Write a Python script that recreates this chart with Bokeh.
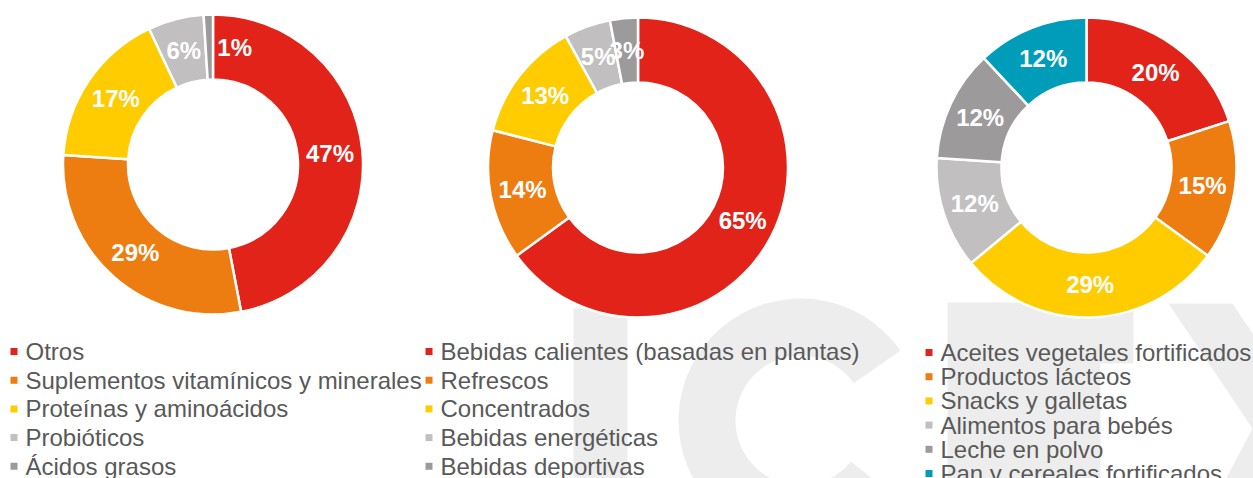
import math
from bokeh.plotting import figure
from bokeh.models import Range1d, ColumnDataSource
from bokeh.core.properties import value
from bokeh.embed import file_html
from bokeh.resources import INLINE

W, H = 1253, 478

# ---------------- data ----------------
cats1 = ["Otros", "Suplementos vitamínicos y minerales", "Proteínas y aminoácidos",
         "Probióticos", "Ácidos grasos"]
vals1 = [47, 29, 17, 6, 1]

cats2 = ["Bebidas calientes (basadas en plantas)", "Refrescos", "Concentrados",
         "Bebidas energéticas", "Bebidas deportivas"]
vals2 = [65, 14, 13, 5, 3]

cats3 = ["Aceites vegetales fortificados", "Productos lácteos", "Snacks y galletas",
         "Alimentos para bebés", "Leche en polvo", "Pan y cereales fortificados"]
vals3 = [20, 15, 29, 12, 12, 12]

colors = ["#E2231A", "#EE7D11", "#FFCC00", "#C1BFC0", "#9C9A9B", "#009DBA"]

# ---------------- layout (pixels, y measured from top) ----------------
charts = [
    dict(cats=cats1, vals=vals1, cx=212.5, cy=164, lx=10, ly=351, dy=28.7),
    dict(cats=cats2, vals=vals2, cx=637.5, cy=167, lx=425, ly=351, dy=28.7),
    dict(cats=cats3, vals=vals3, cx=1086, cy=167, lx=925, ly=352, dy=24.2),
]
R_OUT, R_IN = 150, 85
TEXT_GREY = "#595959"
WM = "#ededed"
FONT = "Liberation Sans"

p = figure(width=W, height=H, x_range=Range1d(0, W), y_range=Range1d(0, H),
           output_backend="svg", toolbar_location=None, min_border=0)
p.axis.visible = False
p.grid.visible = False
p.outline_line_color = None
p.background_fill_color = "white"
p.border_fill_color = "white"

def Y(py):
    return H - py

# ---------------- watermark (decorative) ----------------
p.quad(left=[573], right=[627], top=[Y(308)], bottom=[Y(H + 5)],
       fill_color=WM, line_color=None)
p.annular_wedge(x=[800], y=[Y(420)], inner_radius=65, outer_radius=122,
                start_angle=math.radians(35), end_angle=math.radians(321),
                direction="anticlock", fill_color=WM, line_color=None)
p.patch(x=[947, 1133, 1133, 1100, 1100, 947],
        y=[Y(302), Y(302), Y(363), Y(363), Y(H + 5), Y(H + 5)],
        fill_color=WM, line_color=None)
p.patch(x=[1168, 1232, 1316, 1290, 1223, 1252],
        y=[Y(303), Y(303), Y(428), Y(H + 5), Y(H + 5), Y(428)],
        fill_color=WM, line_color=None)

# ---------------- donuts ----------------
for ch in charts:
    vals = ch["vals"]
    cats = ch["cats"]
    total = float(sum(vals))
    starts, ends, lx, ly, labels, aligns, xoffs = [], [], [], [], [], [], []
    c = 0.0
    rm = (R_OUT + R_IN) / 2.0
    for v in vals:
        a0 = math.pi / 2 - 2 * math.pi * c / total
        a1 = math.pi / 2 - 2 * math.pi * (c + v) / total
        starts.append(a0)
        ends.append(a1)
        mid = (a0 + a1) / 2
        lx.append(ch["cx"] + rm * math.cos(mid))
        ly.append(Y(ch["cy"]) + rm * math.sin(mid))
        labels.append(f"{v}%")
        small = v / total < 0.02
        aligns.append("left" if small else "center")
        xoffs.append(8 if small else 0)
        c += v
    n = len(vals)
    src = ColumnDataSource(dict(
        x=[ch["cx"]] * n, y=[Y(ch["cy"])] * n, start=starts, end=ends,
        color=colors[:n], lx=lx, ly=ly, label=labels, align=aligns, xoff=xoffs))
    p.annular_wedge(x="x", y="y", inner_radius=R_IN, outer_radius=R_OUT,
                    start_angle="start", end_angle="end", direction="clock",
                    fill_color="color", line_color="white", line_width=2.5,
                    source=src)
    p.text(x="lx", y="ly", text="label", text_align="align", x_offset="xoff",
           text_baseline="middle", text_color="white",
           text_font=value(FONT), text_font_style="bold",
           text_font_size="24px", source=src)

    # legend
    mx = [ch["lx"] + 3.5] * n
    my = [Y(ch["ly"] + i * ch["dy"]) for i in range(n)]
    tx = [ch["lx"] + 15] * n
    lsrc = ColumnDataSource(dict(mx=mx, my=my, tx=tx, color=colors[:n], text=cats))
    p.rect(x="mx", y="my", width=7, height=7, fill_color="color",
           line_color=None, source=lsrc)
    p.text(x="tx", y="my", text="text", text_align="left", text_baseline="middle",
           text_color=TEXT_GREY, text_font=value(FONT), text_font_size="24px",
           source=lsrc)

open("out.html", "w").write(file_html(p, INLINE))
